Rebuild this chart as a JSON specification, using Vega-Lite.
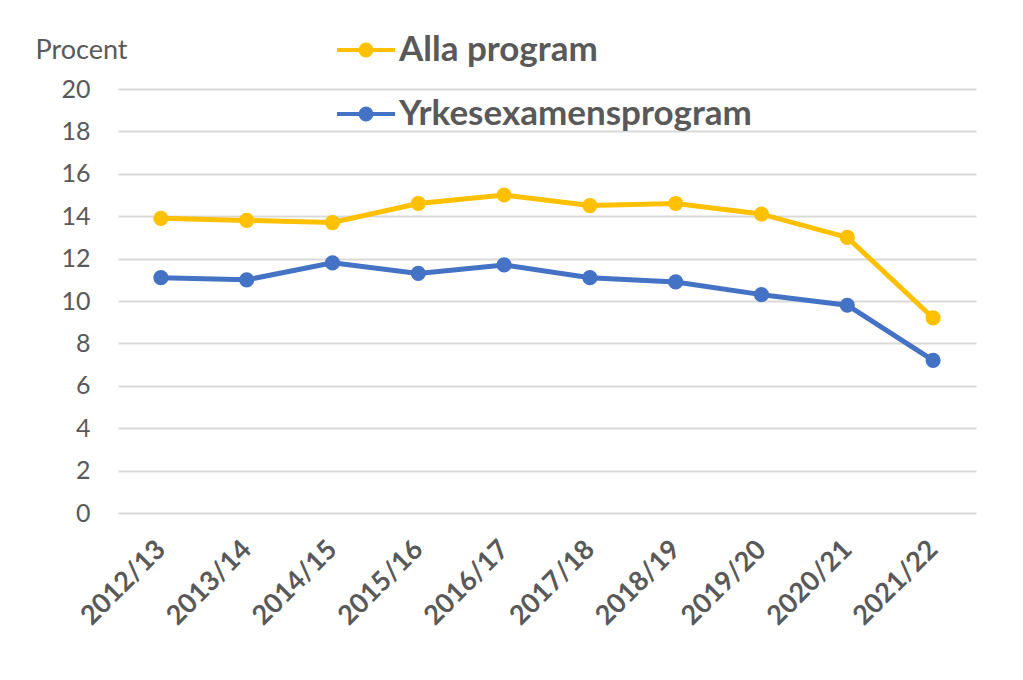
{
  "$schema": "https://vega.github.io/schema/vega-lite/v6.json",
  "width": 858,
  "height": 424,
  "autosize": "none",
  "padding": {"left": 118, "top": 89, "right": 47, "bottom": 167},
  "background": "white",
  "config": {"view": {"stroke": null}, "font": "Lato"},
  "data": {
    "values": [
      {"year": "2012/13", "series": "Alla program", "value": 13.9},
      {"year": "2013/14", "series": "Alla program", "value": 13.8},
      {"year": "2014/15", "series": "Alla program", "value": 13.7},
      {"year": "2015/16", "series": "Alla program", "value": 14.6},
      {"year": "2016/17", "series": "Alla program", "value": 15.0},
      {"year": "2017/18", "series": "Alla program", "value": 14.5},
      {"year": "2018/19", "series": "Alla program", "value": 14.6},
      {"year": "2019/20", "series": "Alla program", "value": 14.1},
      {"year": "2020/21", "series": "Alla program", "value": 13.0},
      {"year": "2021/22", "series": "Alla program", "value": 9.2},
      {"year": "2012/13", "series": "Yrkesexamensprogram", "value": 11.1},
      {"year": "2013/14", "series": "Yrkesexamensprogram", "value": 11.0},
      {"year": "2014/15", "series": "Yrkesexamensprogram", "value": 11.8},
      {"year": "2015/16", "series": "Yrkesexamensprogram", "value": 11.3},
      {"year": "2016/17", "series": "Yrkesexamensprogram", "value": 11.7},
      {"year": "2017/18", "series": "Yrkesexamensprogram", "value": 11.1},
      {"year": "2018/19", "series": "Yrkesexamensprogram", "value": 10.9},
      {"year": "2019/20", "series": "Yrkesexamensprogram", "value": 10.3},
      {"year": "2020/21", "series": "Yrkesexamensprogram", "value": 9.8},
      {"year": "2021/22", "series": "Yrkesexamensprogram", "value": 7.2}
    ]
  },
  "encoding": {
    "x": {
      "field": "year",
      "type": "ordinal",
      "sort": null,
      "scale": {"type": "point", "padding": 0.5},
      "axis": {
        "title": null,
        "domain": false,
        "ticks": false,
        "grid": false,
        "labelAngle": -45,
        "labelAlign": "right",
        "labelBaseline": "middle",
        "labelFontSize": 27,
        "labelFontWeight": "bold",
        "labelColor": "#595959",
        "labelPadding": 32
      }
    },
    "y": {
      "field": "value",
      "type": "quantitative",
      "scale": {"domain": [0, 20]},
      "axis": {
        "values": [0, 2, 4, 6, 8, 10, 12, 14, 16, 18, 20],
        "grid": true,
        "gridColor": "#d9d9d9",
        "gridWidth": 2,
        "domain": false,
        "ticks": false,
        "labelFontSize": 25,
        "labelColor": "#595959",
        "labelPadding": 28,
        "title": "Procent",
        "titleAngle": 0,
        "titleAlign": "left",
        "titleBaseline": "middle",
        "titleX": -83,
        "titleY": -39,
        "titleFontSize": 27,
        "titleFontWeight": "normal",
        "titleColor": "#595959"
      }
    },
    "color": {
      "field": "series",
      "type": "nominal",
      "scale": {"domain": ["Alla program", "Yrkesexamensprogram"], "range": ["#FFC000", "#4472C4"]},
      "legend": {
        "orient": "none",
        "legendX": 226,
        "legendY": -61,
        "title": null,
        "padding": 0,
        "labelFontSize": 35,
        "labelFontWeight": "bold",
        "labelColor": "#595959",
        "labelLimit": 0,
        "labelOffset": 11,
        "rowPadding": 24,
        "symbolType": "M-1.45,0H1.45M-0.27,0A0.27,0.27 0 1,0 0.27,0A0.27,0.27 0 1,0 -0.27,0",
        "symbolSize": 1600,
        "symbolStrokeWidth": 4,
        "symbolOpacity": 1,
        "encode": {
          "symbols": {
            "update": {
              "fill": {"scale": "color", "field": "value"},
              "stroke": {"scale": "color", "field": "value"},
              "strokeWidth": {"value": 4}
            }
          }
        }
      }
    }
  },
  "layer": [
    {"mark": {"type": "line", "strokeWidth": 5}},
    {"mark": {"type": "point", "filled": true, "size": 230, "opacity": 1}}
  ]
}
